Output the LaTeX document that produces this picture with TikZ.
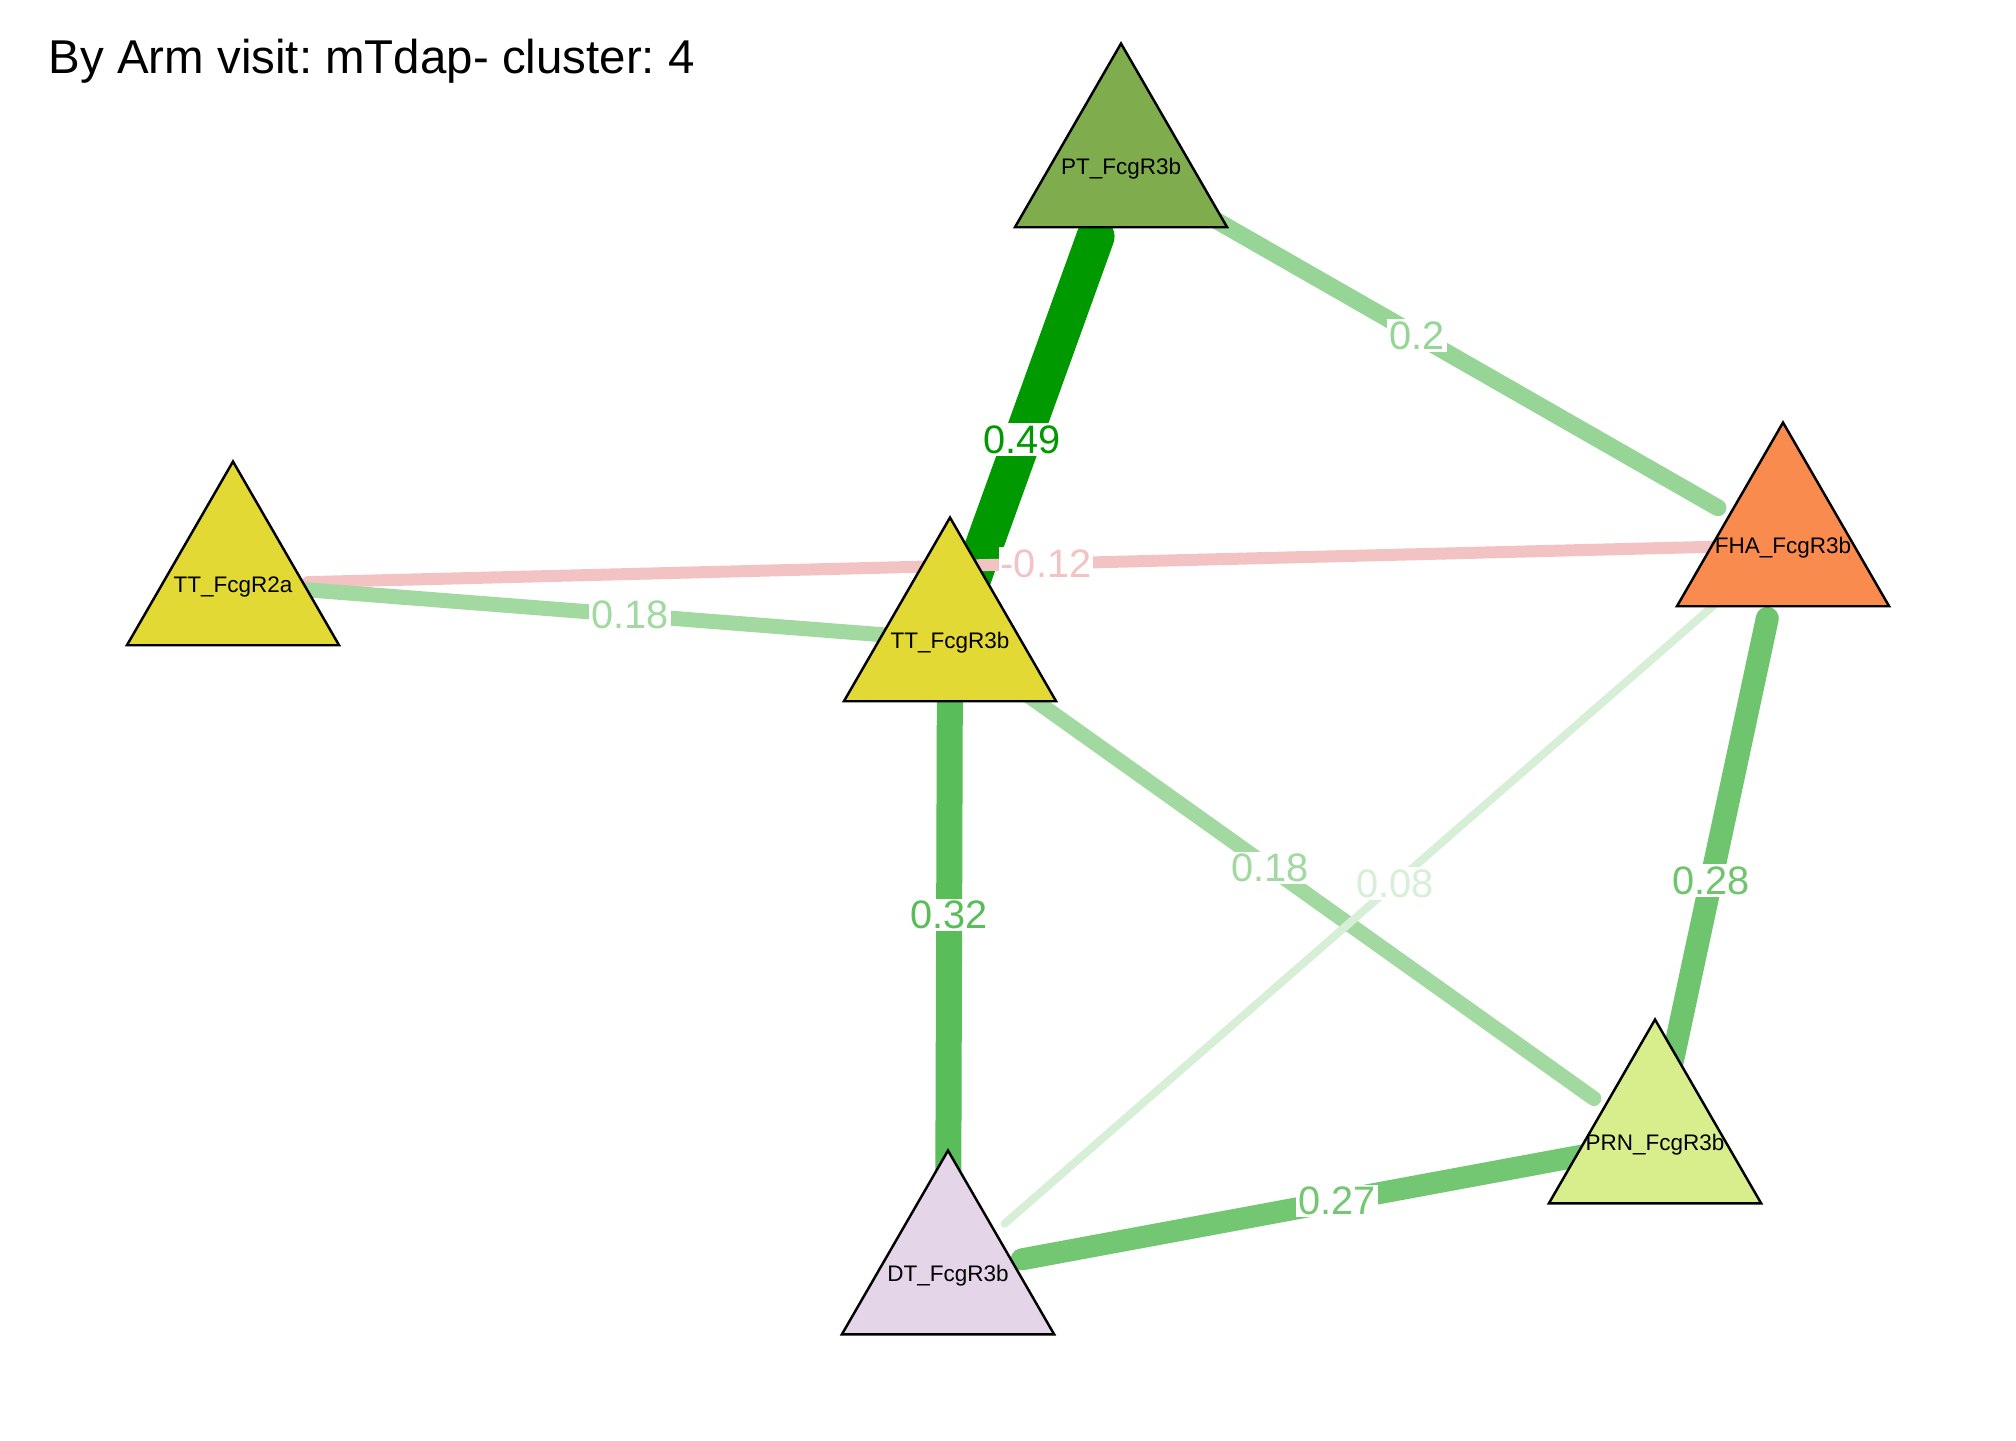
\documentclass[tikz,border=0pt]{standalone}
\usepackage{fontspec}
\setmainfont{Liberation Sans}
\usetikzlibrary{shapes.geometric}
\definecolor{posedge}{RGB}{0,153,0}
\definecolor{negedge}{RGB}{204,0,0}
\definecolor{ptfill}{RGB}{127,173,78}
\definecolor{ttfill}{RGB}{227,217,53}
\definecolor{fhafill}{RGB}{249,139,78}
\definecolor{dtfill}{RGB}{229,213,232}
\definecolor{prnfill}{RGB}{216,237,140}
\pgfdeclarelayer{edges}
\pgfdeclarelayer{elabels}
\pgfsetlayers{edges,elabels,main}
\tikzset{
  vertex/.style={regular polygon, regular polygon sides=3, draw=black, line width=0.7pt,
    minimum size=2.45cm, inner sep=0pt},
  vlabel/.style={inner sep=0pt, yshift=-0.03cm, font=\fontsize{6.4}{7.5}\selectfont},
  edge/.style={line cap=round, shorten >=0.75cm},
  elabel/.style={fill=white, inner sep=0.6pt, font=\fontsize{11.3}{13}\selectfont}
}

\begin{document}
\frenchspacing
\begin{tikzpicture}
\useasboundingbox (0,0) rectangle (20.16,-14.40);
\node[anchor=base west, inner sep=0pt, font=\fontsize{13.5}{16}\selectfont] (title) at (0.48,-0.73) {By Arm visit: mTdap- cluster: 4};

\foreach \name/\x/\y/\col/\txt in {pt/11.21/-1.66/ptfill/PT\_FcgR3b, tta/2.33/-5.84/ttfill/TT\_FcgR2a,
    ttb/9.50/-6.40/ttfill/TT\_FcgR3b, fha/17.83/-5.45/fhafill/FHA\_FcgR3b,
    dt/9.48/-12.73/dtfill/DT\_FcgR3b, prn/16.55/-11.42/prnfill/PRN\_FcgR3b} {
  \node[vertex, fill=\col, label={[vlabel]center:\txt}] (\name) at (\x,\y) {};
}

\begin{pgfonlayer}{edges}
  \foreach \a/\b/\w/\c in {ttb/pt/0.38/posedge, pt/fha/0.17/posedge!41!white,
      fha/tta/0.12/negedge!24!white, ttb/tta/0.15/posedge!37!white,
      ttb/dt/0.26/posedge!65!white, ttb/prn/0.15/posedge!37!white,
      fha/dt/0.08/posedge!16!white, prn/fha/0.23/posedge!57!white,
      prn/dt/0.22/posedge!55!white} {
    \draw[edge, line width=\w cm, draw=\c] (\a.center) -- (\b.center);
  }
\end{pgfonlayer}

\begin{pgfonlayer}{elabels}
  \foreach \a/\b/\c/\p/\t in {ttb/pt/posedge/0.423/0.49, pt/fha/posedge!41!white/0.447/0.2,
      fha/tta/negedge!24!white/0.4755/-0.12, ttb/tta/posedge!37!white/0.446/0.18,
      ttb/dt/posedge!65!white/0.434/0.32, ttb/prn/posedge!37!white/0.454/0.18,
      fha/dt/posedge!16!white/0.465/0.08, prn/fha/posedge!57!white/0.438/0.28,
      prn/dt/posedge!55!white/0.45/0.27} {
    \path (\a.center) -- (\b.center) node[elabel, text=\c, pos=\p] (lab-\a-\b) {\t};
  }
\end{pgfonlayer}
\end{tikzpicture}
\end{document}
